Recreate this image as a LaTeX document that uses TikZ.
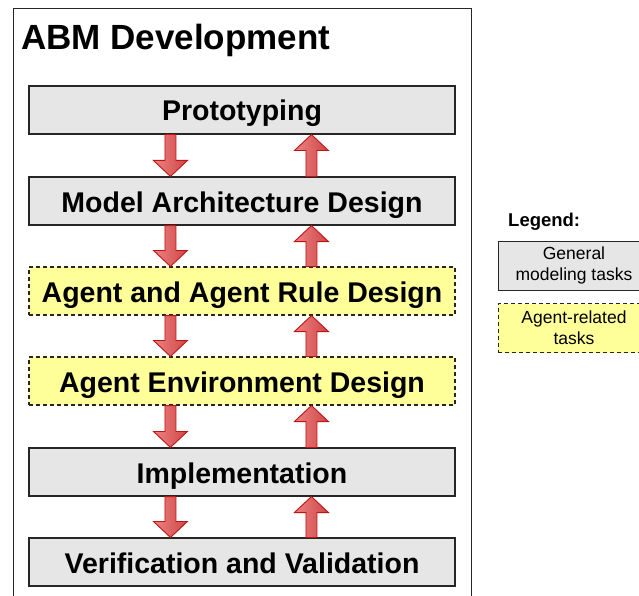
\documentclass[tikz,border=0pt]{standalone}
\usepackage{fontspec}
\setmainfont{Liberation Sans}
\usetikzlibrary{calc}
\definecolor{boxgray}{RGB}{230,230,230}
\definecolor{boxyellow}{RGB}{255,255,153}
\definecolor{arrowL}{RGB}{238,130,130}
\definecolor{arrowR}{RGB}{206,70,70}
\definecolor{arrowD}{RGB}{190,20,20}
\tikzset{
  task/.style={draw=black!85, line width=1.1pt, fill=boxgray, minimum width=426pt,
    minimum height=48pt, inner sep=0pt, text height=22pt, text depth=0pt,
    font=\bfseries\fontsize{28.5}{32}\selectfont},
  agenttask/.style={task, fill=boxyellow, dash pattern=on 4pt off 3pt},
  legendbox/.style={draw=black!85, line width=1pt, fill=boxgray, minimum width=152pt,
    minimum height=49pt, inner sep=0pt, align=center, font=\fontsize{17.5}{21}\selectfont},
  legendagent/.style={legendbox, fill=boxyellow, dash pattern=on 4pt off 3pt},
  blk/.style={draw=arrowD, line width=0.9pt, left color=arrowL, right color=arrowR},
}
\newcommand\blockdown[2]{%
  \path[blk] let \p1=([xshift=142pt]#1.south west), \p2=(#2.north) in
    (\x1-5.5pt,\y1) -- (\x1+5.5pt,\y1) -- (\x1+5.5pt,\y2+16pt) -- (\x1+17pt,\y2+16pt)
    -- (\x1,\y2) -- (\x1-17pt,\y2+16pt) -- (\x1-5.5pt,\y2+16pt) -- cycle;}
\newcommand\blockup[2]{%
  \path[blk] let \p1=([xshift=283pt]#1.north west), \p2=(#2.south) in
    (\x1-5.5pt,\y1) -- (\x1+5.5pt,\y1) -- (\x1+5.5pt,\y2-16pt) -- (\x1+17pt,\y2-16pt)
    -- (\x1,\y2) -- (\x1-17pt,\y2-16pt) -- (\x1-5.5pt,\y2-16pt) -- cycle;}
\begin{document}
\begin{tikzpicture}[x=1pt,y=-1pt]
\useasboundingbox (0,0) rectangle (639,596);
\begin{scope}
\clip (0,0) rectangle (639,596);
\draw[draw=black!85, line width=1pt, fill=white] (13,9) rectangle (471,610);
\node[legendbox] (lg) at (574,265.5) {General\\modeling tasks};
\node[legendagent] (la) at (574,328) {Agent-related\\tasks};
\end{scope}
\node[anchor=base west, inner sep=0pt, font=\bfseries\fontsize{35}{38}\selectfont] (title) at (21,50) {ABM Development};
\node[anchor=base west, inner sep=0pt, font=\bfseries\fontsize{18.5}{20}\selectfont] (legend) at (508,226) {Legend:};

\node[task] (p) at (242,110) {Prototyping};
\node[task] (m) at (242,201) {Model Architecture Design};
\node[agenttask] (ar) at (242,291) {Agent and Agent Rule Design};
\node[agenttask] (ae) at (242,381) {Agent Environment Design};
\node[task] (im) at (242,472) {Implementation};
\node[task] (vv) at (242,562) {Verification and Validation};

\blockdown{p}{m}
\blockdown{m}{ar}
\blockdown{ar}{ae}
\blockdown{ae}{im}
\blockdown{im}{vv}
\blockup{m}{p}
\blockup{ar}{m}
\blockup{ae}{ar}
\blockup{im}{ae}
\blockup{vv}{im}
\end{tikzpicture}
\end{document}
